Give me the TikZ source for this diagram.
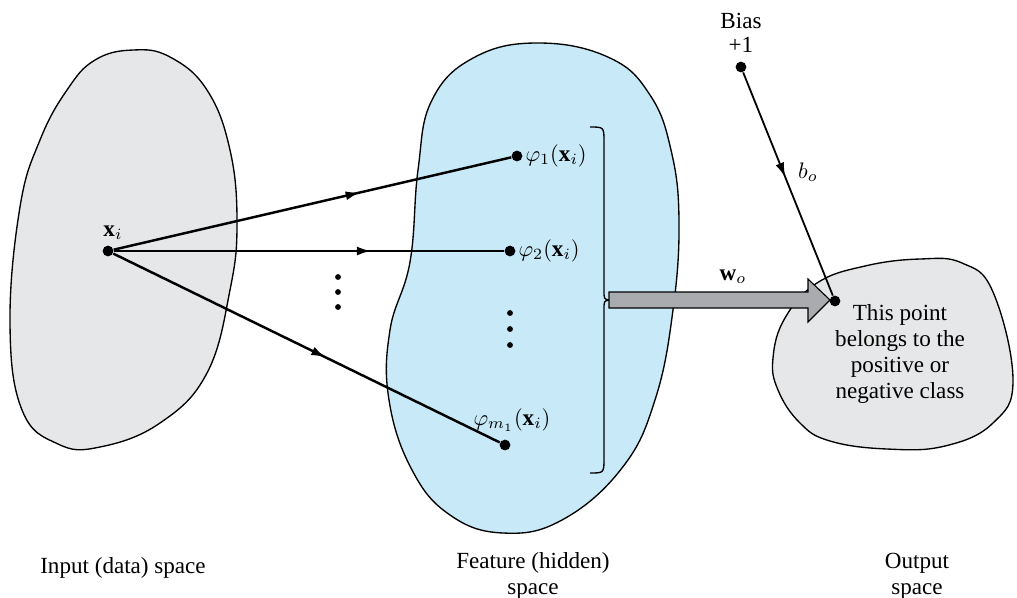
\documentclass[tikz,border=0pt]{standalone}
\usepackage{fontspec}
\setmainfont{Liberation Serif}[Ligatures=TeX]
\usetikzlibrary{arrows.meta,decorations.markings}

\definecolor{blobgray}{HTML}{E6E7E8}
\definecolor{blobblue}{HTML}{C8E9F8}
\definecolor{shaftgray}{HTML}{A9ABAE}

\begin{document}
\begin{tikzpicture}[
        x=.446pt, y=-.446pt,
        blob/.style={draw=black, line width=.6pt, fill=#1},
        dot/.style={circle, fill=black, inner sep=0pt, minimum size=4.8pt},
        vdot/.style={circle, fill=black, inner sep=0pt, minimum size=2.6pt},
        conn/.style={line width=1.1pt},
        midarrow/.style={postaction={decorate}, decoration={markings,
            mark=at position #1 with {\arrow{Latex[length=6.5pt,width=4pt]}}}},
        lbl/.style={font=\rmfamily\fontsize{10.3}{11.6}\selectfont, inner sep=1pt},
    ]
    \useasboundingbox (0,0) rectangle (1017,597);

    %% the three spaces
    \draw[blob=blobgray] plot[smooth cycle, tension=.7] coordinates {
        (133,50) (170,57) (207,90) (230,150) (237,223) (230,290) (207,373)
        (160,423) (100,447) (58,444) (22,410) (10,323) (20,207) (40,140)
        (67,90) (95,60)};
    \draw[blob=blobblue] plot[smooth cycle, tension=.7] coordinates {
        (540,43) (610,58) (650,95) (671,150) (679,220) (673,310) (655,400)
        (622,468) (562,520) (503,533) (450,515) (412,470) (389,400) (390,330)
        (410,262) (418,170) (432,100) (475,57)};
    \draw[blob=blobgray] plot[smooth cycle, tension=.7] coordinates {
        (920,259) (962,263) (993,292) (1013,380) (993,423) (945,446)
        (887,449) (830,441) (800,423) (778,390) (773,358) (785,318)
        (817,283) (865,266)};

    %% points
    \node[dot] (xi) at (108,251) {};
    \node[dot] (phi1) at (517,156) {};
    \node[dot] (phi2) at (510,251) {};
    \node[dot] (phim) at (505,445) {};
    \node[dot] (bias) at (741,67) {};
    \node[dot] (out) at (835,301) {};

    \node[lbl] at (113,233) {$\mathbf{x}_i$};
    \node[lbl, anchor=west] at (phi1.east) {$\varphi_1(\mathbf{x}_i)$};
    \node[lbl, anchor=west] at (phi2.east) {$\varphi_2(\mathbf{x}_i)$};
    \node[lbl] at (512,420) {$\varphi_{m_1}(\mathbf{x}_i)$};
    \node[lbl, align=center, font=\rmfamily\fontsize{10.3}{10.4}\selectfont] at (741,33) {Bias\\+1};
    \node[lbl] at (808,172) {$b_o$};
    \node[lbl] at (733,277) {$\mathbf{w}_o$};

    %% mapping x_i into the feature space
    \draw[conn, midarrow=.62] (xi) -- (phi1);
    \draw[conn, midarrow=.66] (xi) -- (phi2);
    \draw[conn, midarrow=.55] (xi) -- (phim);
    \draw[conn, line width=.8pt, midarrow=.47] (bias) -- (out);

    \foreach \y in {277, 292, 307}
        \node[vdot] at (338,\y) {};
    \foreach \y in {313, 329, 345}
        \node[vdot] at (510,\y) {};

    %% brace and the weight arrow
    \draw[line width=.6pt] (590,127) .. controls (604,127) .. (604,142)
        -- (604,290) .. controls (604,299) .. (609,300)
        .. controls (604,301) .. (604,310) -- (604,458)
        .. controls (604,473) .. (590,473);
    \draw[fill=shaftgray, line width=.5pt] (609,292) -- (808,292) -- (808,279)
        -- (830,300) -- (808,322) -- (808,308) -- (609,308) -- cycle;

    \node[lbl, align=center] at (900,354)
        {This point\\belongs to the\\positive or\\negative class};

    %% captions
    \node[lbl] at (123,568) {Input (data) space};
    \node[lbl, align=center] at (533,576) {Feature (hidden)\\space};
    \node[lbl, align=center] at (917,576) {Output\\space};
\end{tikzpicture}
\end{document}
